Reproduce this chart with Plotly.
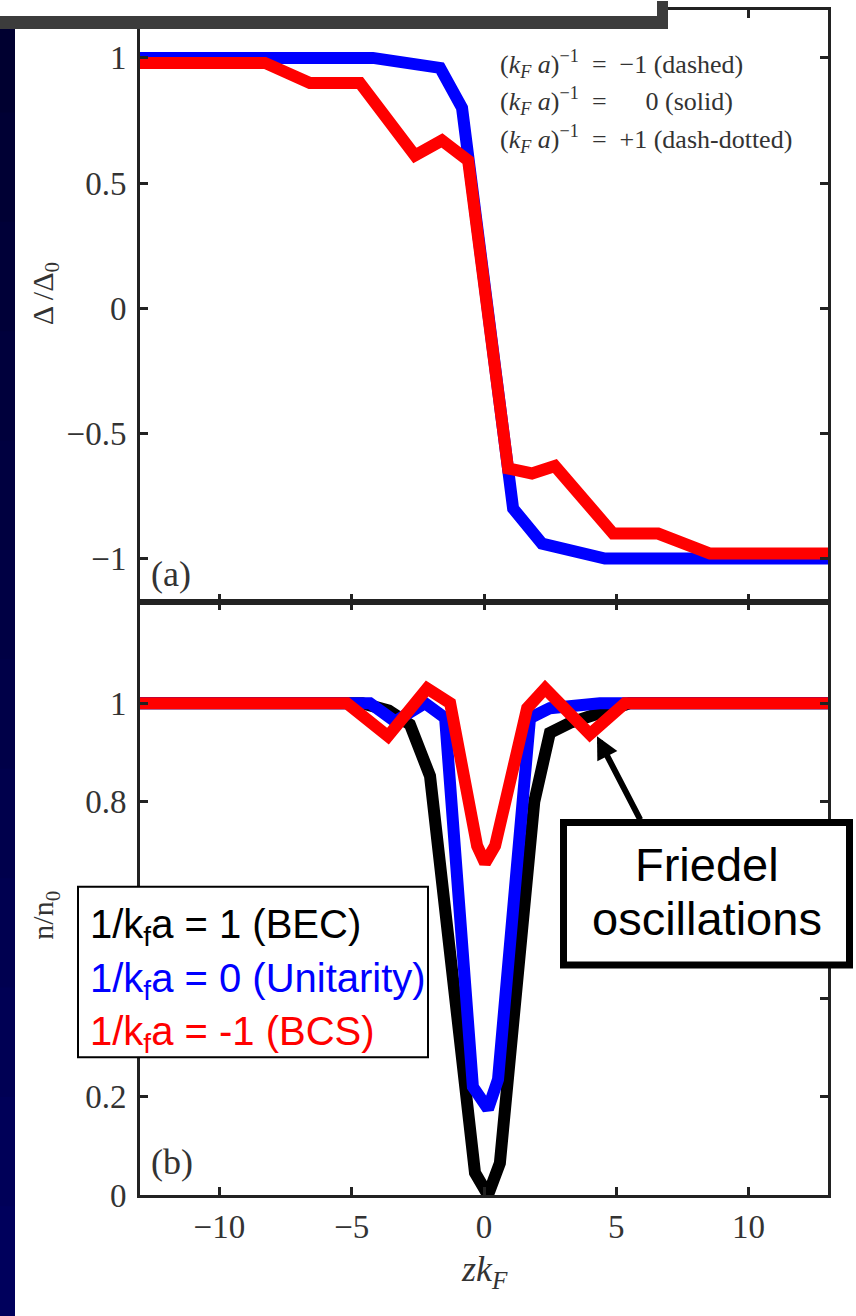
import plotly.graph_objects as go

# ---------------- data ----------------
# top panel: gap profile Delta/Delta_0 vs z k_F
delta_x_unitarity = [-13, -4.2, -1.66, -0.83, 1.10, 2.19, 4.57, 13]
delta_unitarity = [1.0, 1.0, 0.96, 0.80, -0.80, -0.94, -1.0, -1.0]

delta_x_bcs = [-13, -8.28, -6.58, -4.69, -2.61, -1.59, -0.60, 0.91, 1.81, 2.68, 4.88, 6.58, 8.54, 13]
delta_bcs = [0.98, 0.98, 0.90, 0.90, 0.61, 0.67, 0.59, -0.64, -0.66, -0.63, -0.90, -0.90, -0.98, -0.98]

# bottom panel: density n/n_0 vs z k_F
n_x_bec = [-13, -4.6, -3.6, -2.8, -2.04, -0.34, 0.15, 0.60, 1.90, 2.49, 3.25, 5.5, 13]
n_bec = [1.0, 1.0, 0.985, 0.957, 0.852, 0.045, 0.0, 0.065, 0.80, 0.94, 0.96, 1.0, 1.0]

n_x_unitarity = [-13, -4.31, -3.36, -2.23, -1.47, -0.42, 0.15, 0.53, 1.74, 2.49, 4.38, 13]
n_unitarity = [1.0, 1.0, 0.963, 1.0, 0.97, 0.22, 0.175, 0.235, 0.97, 0.99, 1.0, 1.0]

n_x_bcs = [-13, -5.18, -3.63, -2.15, -1.28, -0.26, 0.04, 0.42, 1.63, 2.31, 4.0, 5.33, 13]
n_bcs = [1.0, 1.0, 0.933, 1.03, 1.0, 0.71, 0.675, 0.71, 0.99, 1.03, 0.937, 1.0, 1.0]

x_ticks = [-10, -5, 0, 5, 10]
x_ticktext = ["\u221210", "\u22125", "0", "5", "10"]
top_y_ticks = [-1, -0.5, 0, 0.5, 1]
top_y_ticktext = ["\u22121", "\u22120.5", "0", "0.5", "1"]
bot_y_ticks = [0, 0.2, 0.4, 0.6, 0.8, 1]
# 0.4 and 0.6 labels are hidden behind the legend box in the reference
bot_y_ticktext = ["0", "0.2", "", "", "0.8", "1"]

legend_lines = [
    ("1/k<sub>f</sub>a = 1 (BEC)", "#000000"),
    ("1/k<sub>f</sub>a = 0 (Unitarity)", "#0000ff"),
    ("1/k<sub>f</sub>a = -1 (BCS)", "#ff0000"),
]
key_lines = [
    "(<i>k<sub>F</sub> a</i>)<sup>\u22121</sup>  =  \u22121 (dashed)",
    "(<i>k<sub>F</sub> a</i>)<sup>\u22121</sup>  =      0 (solid)",
    "(<i>k<sub>F</sub> a</i>)<sup>\u22121</sup>  =  +1 (dash-dotted)",
]

# ---------------- layout geometry (pixels) ----------------
W, H = 856, 1316
L, R, T, B = 140, 828, 7, 1195  # plot area edges
PW, PH = R - L, B - T


def px(xp):
    return (xp - L) / PW


def py(yp):
    return (B - yp) / PH


split = py(600)

fig = go.Figure()

LW = 12
fig.add_trace(go.Scatter(x=delta_x_unitarity, y=delta_unitarity, mode="lines",
                         line=dict(color="#0000ff", width=LW), xaxis="x", yaxis="y",
                         showlegend=False))
fig.add_trace(go.Scatter(x=delta_x_bcs, y=delta_bcs, mode="lines",
                         line=dict(color="#ff0000", width=LW), xaxis="x", yaxis="y",
                         showlegend=False))
fig.add_trace(go.Scatter(x=n_x_bec, y=n_bec, mode="lines",
                         line=dict(color="#000000", width=LW), xaxis="x2", yaxis="y2",
                         showlegend=False))
fig.add_trace(go.Scatter(x=n_x_unitarity, y=n_unitarity, mode="lines",
                         line=dict(color="#0000ff", width=LW), xaxis="x2", yaxis="y2",
                         showlegend=False))
fig.add_trace(go.Scatter(x=n_x_bcs, y=n_bcs, mode="lines",
                         line=dict(color="#ff0000", width=LW), xaxis="x2", yaxis="y2",
                         showlegend=False))

tickfont = dict(family="Liberation Serif", size=33, color="#333333")
axis_common = dict(showgrid=False, zeroline=False, showline=True, linewidth=3,
                   linecolor="#222222", mirror="ticks", ticks="inside", ticklen=8,
                   tickwidth=2.5, tickcolor="#222222", tickfont=tickfont)

top_range = [(306 - 600) / 251.0, (306 - 7) / 251.0]
bot_range = [0, (1195 - 600) / 493.0]

fig.update_layout(
    width=W, height=H,
    margin=dict(l=L, r=W - R, t=T, b=H - B, pad=0),
    paper_bgcolor="white", plot_bgcolor="white",
    xaxis=dict(domain=[0, 1], anchor="y", range=[-13, 13], tickvals=x_ticks,
               showticklabels=False, **axis_common),
    yaxis=dict(domain=[split, 1], anchor="x", range=top_range, tickvals=top_y_ticks,
               ticktext=top_y_ticktext, ticklabelstandoff=4, **axis_common),
    xaxis2=dict(domain=[0, 1], anchor="y2", range=[-13, 13], tickvals=x_ticks,
                ticktext=x_ticktext, ticklabelstandoff=0, **axis_common),
    yaxis2=dict(domain=[0, split], anchor="x2", range=bot_range, tickvals=bot_y_ticks,
                ticktext=bot_y_ticktext, ticklabelstandoff=4, **axis_common),
)

shapes = []
# dark navy strip at the left edge (slide background), slight vertical gradient
nb = 12
for i in range(nb):
    y0 = i * H / nb
    y1 = (i + 1) * H / nb
    c = int(0x30 + (0x5c - 0x30) * i / (nb - 1))
    shapes.append(dict(type="rect", xref="paper", yref="paper", x0=px(0), x1=px(15),
                       y0=py(y1 + 1), y1=py(y0), fillcolor="rgb(0,0,%d)" % c,
                       line=dict(width=0), layer="above"))
# caption box (cut at top of slide)
shapes.append(dict(type="rect", xref="paper", yref="paper", x0=px(0), x1=px(668),
                   y0=py(26), y1=py(-2), fillcolor="#3c3c3c", line=dict(width=0), layer="above"))
shapes.append(dict(type="rect", xref="paper", yref="paper", x0=px(0), x1=px(657),
                   y0=py(13), y1=py(-2), fillcolor="#ffffff", line=dict(width=0), layer="above"))
# legend box
shapes.append(dict(type="rect", xref="paper", yref="paper", x0=px(78), x1=px(428),
                   y0=py(1057), y1=py(886), fillcolor="#ffffff",
                   line=dict(color="#000000", width=2), layer="above"))
# Friedel box
shapes.append(dict(type="rect", xref="paper", yref="paper", x0=px(563.5), x1=px(849.5),
                   y0=py(964.5), y1=py(821.5), fillcolor="#ffffff",
                   line=dict(color="#000000", width=7), layer="above"))

annotations = []
# right-top key text (from the original figure)
for i, t in enumerate(key_lines):
    annotations.append(dict(text=t, xref="paper", yref="paper", x=px(498), y=py(61 + 37.5 * i),
                            xanchor="left", yanchor="middle", showarrow=False,
                            font=dict(family="Liberation Serif", size=26, color="#333333")))
# panel labels
annotations.append(dict(text="(a)", xref="paper", yref="paper", x=px(149), y=py(572),
                        xanchor="left", yanchor="middle", showarrow=False,
                        font=dict(family="Liberation Serif", size=36, color="#333333")))
annotations.append(dict(text="(b)", xref="paper", yref="paper", x=px(149), y=py(1162),
                        xanchor="left", yanchor="middle", showarrow=False,
                        font=dict(family="Liberation Serif", size=36, color="#333333")))
# axis titles
annotations.append(dict(text="\u0394 /\u0394<sub>0</sub>", xref="paper", yref="paper",
                        x=px(45), y=py(292), textangle=-90, xanchor="center", yanchor="middle",
                        showarrow=False,
                        font=dict(family="Liberation Serif", size=30, color="#333333")))
annotations.append(dict(text="n/n<sub>0</sub>", xref="paper", yref="paper",
                        x=px(45), y=py(915), textangle=-90, xanchor="center", yanchor="middle",
                        showarrow=False,
                        font=dict(family="Liberation Serif", size=30, color="#333333")))
annotations.append(dict(text="<i>zk<sub>F</sub></i>", xref="paper", yref="paper",
                        x=px(484), y=py(1272), xanchor="center", yanchor="middle",
                        showarrow=False,
                        font=dict(family="Liberation Serif", size=36, color="#333333")))
# legend text
for i, (t, c) in enumerate(legend_lines):
    annotations.append(dict(text=t, xref="paper", yref="paper", x=px(88), y=py(926 + 54 * i),
                            xanchor="left", yanchor="middle", showarrow=False,
                            font=dict(family="Liberation Sans", size=40, color=c)))
# Friedel text
annotations.append(dict(text="Friedel", xref="paper", yref="paper", x=px(707), y=py(864),
                        xanchor="center", yanchor="middle", showarrow=False,
                        font=dict(family="Liberation Sans", size=47, color="#000000")))
annotations.append(dict(text="oscillations", xref="paper", yref="paper", x=px(707), y=py(918),
                        xanchor="center", yanchor="middle", showarrow=False,
                        font=dict(family="Liberation Sans", size=47, color="#000000")))
# arrow
annotations.append(dict(text="", xref="paper", yref="paper", x=px(597), y=py(735),
                        ax=44, ay=85, axref="pixel", ayref="pixel",
                        showarrow=True, arrowhead=2, arrowsize=0.75, arrowwidth=6,
                        arrowcolor="#000000", standoff=0))

fig.update_layout(shapes=shapes, annotations=annotations)

fig.write_html("out.html", config={"displayModeBar": False},
               post_script="document.body.style.margin='0';document.body.style.padding='0';"
                           "document.body.style.overflow='hidden';")
